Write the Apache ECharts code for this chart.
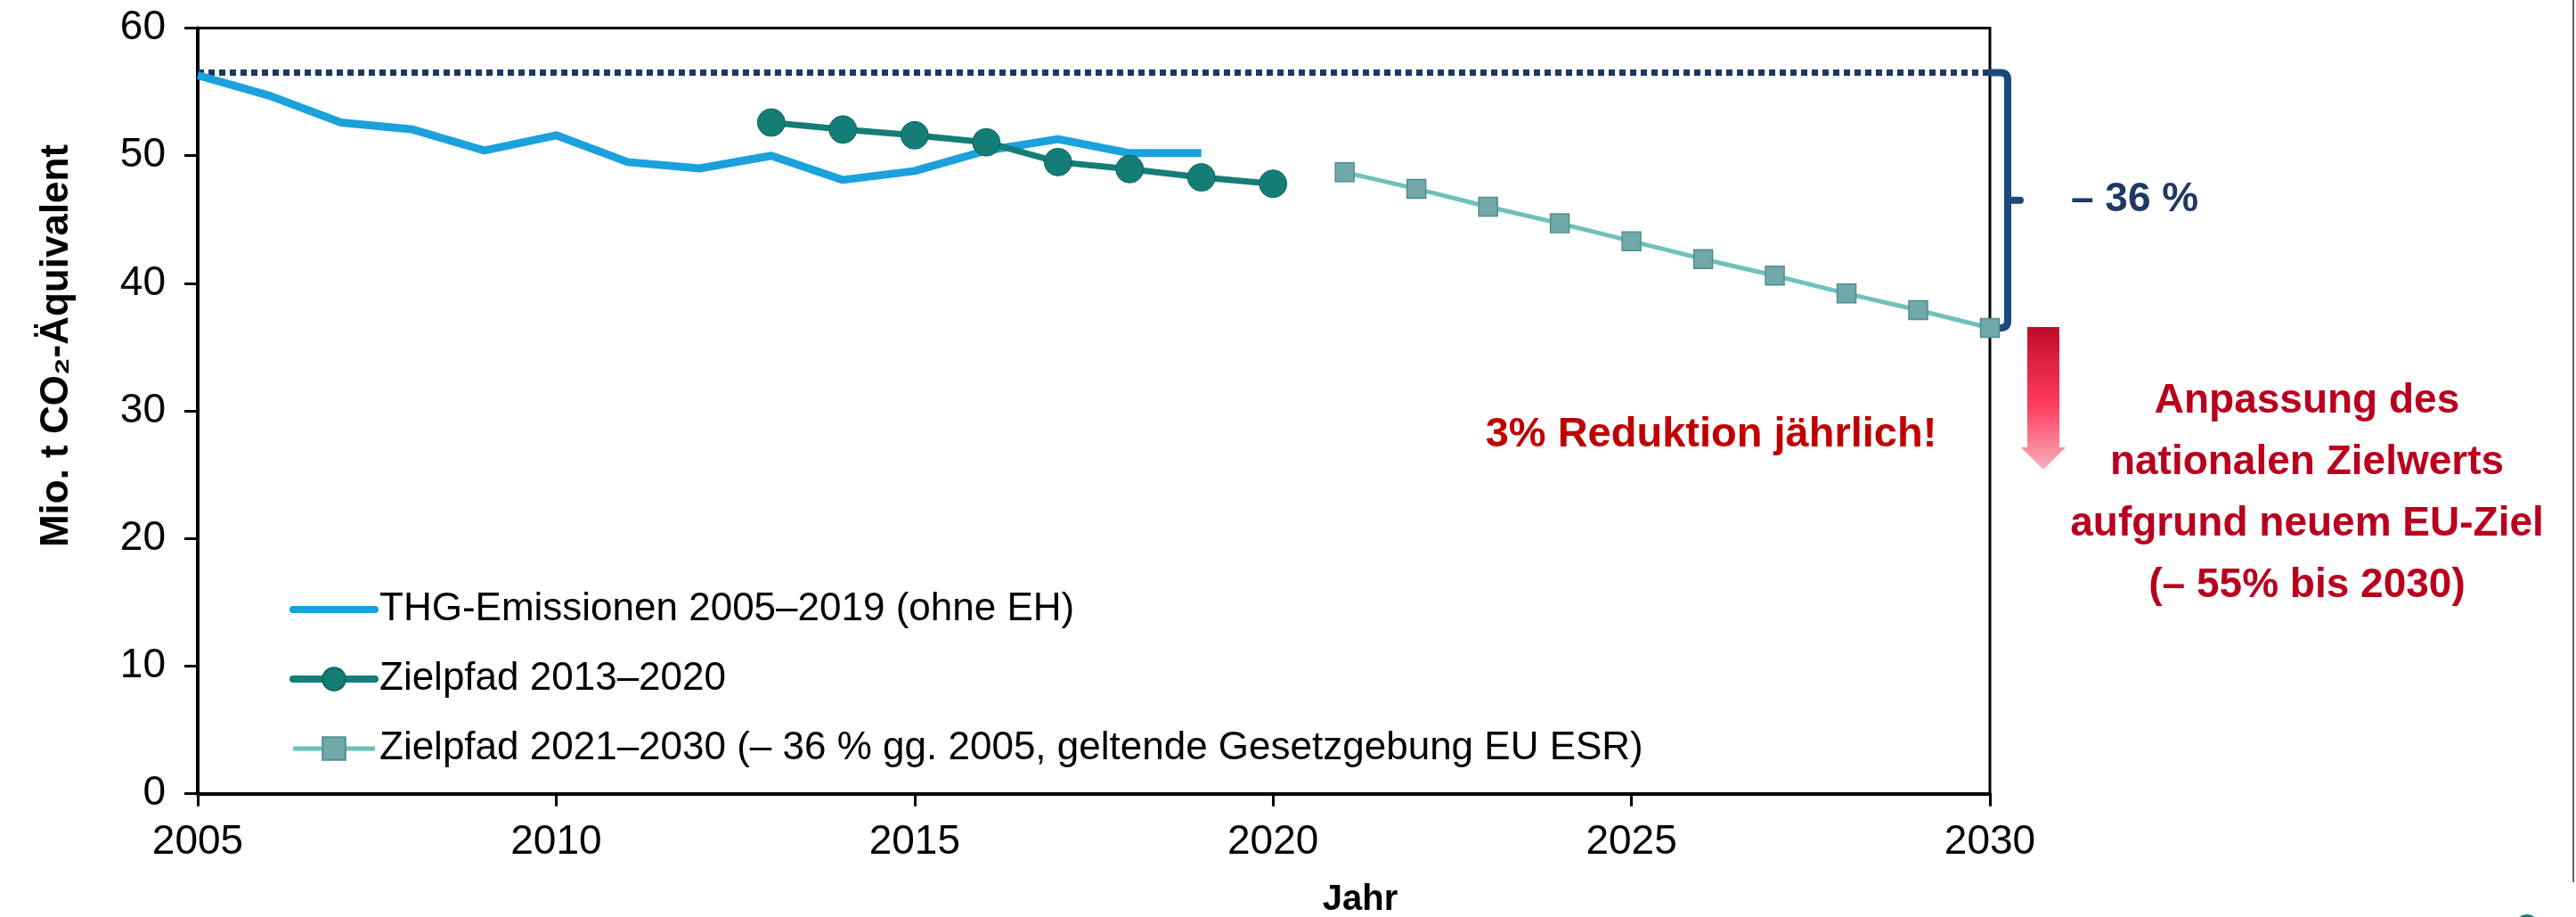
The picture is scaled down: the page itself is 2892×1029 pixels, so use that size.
<!DOCTYPE html>
<html>
<head>
<meta charset="utf-8">
<script src="https://cdn.jsdelivr.net/npm/echarts@6/dist/echarts.min.js"></script>
<style>
  html, body { margin: 0; padding: 0; background: #fff; }
  #chart { width: 2892px; height: 1029px; }
</style>
</head>
<body>
<div id="chart"></div>
<script>
// Jahre und Werte (Mio. t CO2-Äquivalent)
var thgYears = [2005, 2006, 2007, 2008, 2009, 2010, 2011, 2012, 2013, 2014, 2015, 2016, 2017, 2018, 2019];
var thgValues = [56.3, 54.7, 52.6, 52.05, 50.4, 51.6, 49.5, 49.0, 50.0, 48.1, 48.8, 50.4, 51.3, 50.2, 50.2];

var ziel1Years = [2013, 2014, 2015, 2016, 2017, 2018, 2019, 2020];
var ziel1Values = [52.6, 52.05, 51.6, 51.05, 49.5, 48.95, 48.3, 47.8];

var ziel2Years = [2021, 2022, 2023, 2024, 2025, 2026, 2027, 2028, 2029, 2030];
var ziel2Values = [48.7, 47.4, 46.0, 44.7, 43.3, 41.9, 40.6, 39.2, 37.9, 36.5];

var base2005 = 56.5;
var baseYears = [2005, 2030];

var yTicks = [0, 10, 20, 30, 40, 50, 60];
var xTicks = [2005, 2010, 2015, 2020, 2025, 2030];

var seriesNames = [
    'THG-Emissionen 2005–2019 (ohne EH)',
    'Zielpfad 2013–2020',
    'Zielpfad 2021–2030 (– 36 % gg. 2005, geltende Gesetzgebung EU ESR)'
];

function pairs(xs, ys) {
    return xs.map(function (x, i) { return [x, ys[i]]; });
}

var font = '"Liberation Sans", Arial, sans-serif';

var chart = echarts.init(document.getElementById('chart'), null, { renderer: 'canvas' });

var option = {
    animation: false,
    backgroundColor: '#ffffff',
    grid: {
        left: 222,
        right: 2892 - 2234,
        top: 31.5,
        bottom: 1029 - 890.7,
        show: true,
        borderColor: '#000',
        borderWidth: 3,
        containLabel: false,
        outerBoundsMode: 'none'
    },
    legend: {
        data: [
            { name: seriesNames[0], itemStyle: { opacity: 0 }, lineStyle: { width: 8, color: '#1ba1dc', cap: 'round' } },
            { name: seriesNames[1], lineStyle: { width: 8, color: '#147e76', cap: 'round' } },
            { name: seriesNames[2], lineStyle: { width: 5, color: '#6fc1ba' } }
        ],
        orient: 'vertical',
        left: 320,
        top: 657,
        itemWidth: 92,
        itemHeight: 32,
        itemGap: 34,
        textStyle: { fontFamily: font, fontSize: 44, color: '#000', lineHeight: 44 }
    },
    xAxis: {
        type: 'value',
        min: xTicks[0],
        max: xTicks[xTicks.length - 1],
        interval: 5,
        splitLine: { show: false },
        axisLine: { lineStyle: { color: '#000', width: 4 } },
        axisTick: { inside: false, length: 14, lineStyle: { color: '#000', width: 3 } },
        axisLabel: {
            fontFamily: font, fontSize: 46, color: '#000', margin: 32,
            formatter: function (v) { return String(v); }
        }
    },
    yAxis: {
        type: 'value',
        min: yTicks[0],
        max: yTicks[yTicks.length - 1],
        interval: 10,
        splitLine: { show: false },
        axisLine: { show: true, lineStyle: { color: '#000', width: 4 } },
        axisTick: { show: true, inside: false, length: 15, lineStyle: { color: '#000', width: 3 } },
        axisLabel: { fontFamily: font, fontSize: 46, color: '#000', margin: 36 }
    },
    series: [
        {
            name: 'Basis 2005',
            type: 'line',
            data: baseYears.map(function (y) { return [y, base2005]; }),
            symbol: 'none',
            silent: true,
            lineStyle: { color: '#1a3766', width: 7, type: [7, 5], cap: 'butt' }
        },
        {
            name: seriesNames[0],
            type: 'line',
            data: pairs(thgYears, thgValues),
            symbol: 'none',
            color: '#1ba1dc',
            lineStyle: { color: '#1ba1dc', width: 9, join: 'round' }
        },
        {
            name: seriesNames[1],
            type: 'line',
            data: pairs(ziel1Years, ziel1Values),
            symbol: 'circle',
            symbolSize: 31,
            color: '#147e76',
            itemStyle: { color: '#147e76', borderColor: '#0d6660', borderWidth: 1 },
            lineStyle: { color: '#147e76', width: 7 }
        },
        {
            name: seriesNames[2],
            type: 'line',
            data: pairs(ziel2Years, ziel2Values),
            symbol: 'rect',
            symbolSize: 21,
            color: '#6fbfb8',
            itemStyle: { color: '#71a8aa', borderColor: '#4e8e8f', borderWidth: 1.5 },
            lineStyle: { color: '#6fc1ba', width: 5 }
        },
        {
            // Klammer: 2005-Niveau bis Zielwert 2030
            name: 'Klammer',
            type: 'custom',
            silent: true,
            clip: false,
            data: [[baseYears[1], base2005, ziel2Values[ziel2Values.length - 1]]],
            renderItem: function (params, api) {
                var top = api.coord([api.value(0), api.value(1)]);
                var bot = api.coord([api.value(0), api.value(2)]);
                var bx = top[0] + 20, r = 8, mid = (top[1] + bot[1]) / 2;
                var d = 'M' + top[0] + ' ' + top[1] +
                    ' L' + (bx - r) + ' ' + top[1] +
                    ' Q' + bx + ' ' + top[1] + ' ' + bx + ' ' + (top[1] + r) +
                    ' L' + bx + ' ' + (bot[1] - r) +
                    ' Q' + bx + ' ' + bot[1] + ' ' + (bx - r) + ' ' + bot[1] +
                    ' L' + (top[0] + 4) + ' ' + bot[1] +
                    ' M' + bx + ' ' + mid + ' L' + (bx + 14) + ' ' + mid;
                return {
                    type: 'path',
                    shape: { pathData: d },
                    style: { stroke: '#1b4a7a', lineWidth: 8, fill: null, lineCap: 'round', lineJoin: 'round' }
                };
            }
        }
    ],
    graphic: [
        {
            type: 'text',
            x: 64, y: 388,
            rotation: Math.PI / 2,
            style: {
                text: 'Mio. t CO₂-Äquivalent',
                font: 'bold 44px ' + font,
                fill: '#000',
                align: 'center',
                verticalAlign: 'middle'
            }
        },
        {
            type: 'text',
            x: 1527, y: 1010,
            style: { text: 'Jahr', font: 'bold 40px ' + font, fill: '#000', align: 'center', verticalAlign: 'middle' }
        },
        {
            type: 'text',
            x: 2325, y: 224,
            style: { text: '– 36 %', font: 'bold 46px ' + font, fill: '#1f3864', align: 'left', verticalAlign: 'middle' }
        },
        {
            type: 'text',
            x: 1921, y: 488,
            style: { text: '3% Reduktion jährlich!', font: 'bold 47px ' + font, fill: '#c00000', align: 'center', verticalAlign: 'middle' }
        },
        {
            type: 'text',
            x: 2590, y: 554,
            style: {
                text: 'Anpassung des\nnationalen Zielwerts\naufgrund neuem EU-Ziel\n(– 55% bis 2030)',
                font: 'bold 46px ' + font,
                lineHeight: 69,
                fill: '#b8001e',
                align: 'center',
                verticalAlign: 'middle'
            }
        },
        {
            type: 'polygon',
            shape: {
                points: [[2276, 367], [2312, 367], [2312, 502], [2319, 502], [2294, 527], [2269, 502], [2276, 502]]
            },
            style: {
                fill: new echarts.graphic.LinearGradient(0, 0, 0, 1, [
                    { offset: 0, color: '#c20a28' },
                    { offset: 0.55, color: '#ff3d5e' },
                    { offset: 1, color: '#f7b0bd' }
                ])
            }
        },
        {
            type: 'line',
            shape: { x1: 2889, y1: 0, x2: 2889, y2: 990 },
            style: { stroke: '#666', lineWidth: 2 }
        },
        {
            type: 'circle',
            shape: { cx: 2837, cy: 1040, r: 14 },
            style: { fill: '#127f78' }
        }
    ]
};
chart.setOption(option);

window.onresize = chart.resize;
</script>
</body>
</html>
